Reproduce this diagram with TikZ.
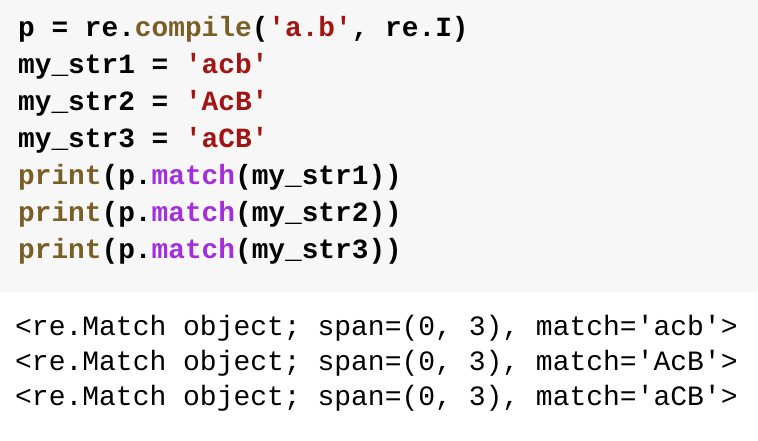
\documentclass[tikz,border=0pt]{standalone}
\usepackage{fontspec}
\setmonofont{Liberation Mono}
\definecolor{cellbg}{HTML}{F7F7F7}
\definecolor{fncol}{HTML}{795E26}
\definecolor{strcol}{HTML}{A31515}
\definecolor{attrcol}{HTML}{A42EDC}
\newcommand{\pyfn}[1]{\textcolor{fncol}{#1}}
\newcommand{\pystr}[1]{\textcolor{strcol}{#1}}
\newcommand{\pyattr}[1]{\textcolor{attrcol}{#1}}

\begin{document}
\begin{tikzpicture}[x=1pt, y=1pt,
    code/.style={anchor=base west, inner sep=0pt, font=\ttfamily\bfseries\fontsize{27.8}{33}\selectfont},
    result/.style={anchor=base west, inner sep=0pt, font=\ttfamily\fontsize{28}{33}\selectfont}]
    \useasboundingbox (0,0) rectangle (758,-440);

    % Celda de codigo
    \fill[cellbg] (0,0) rectangle (758,-292);

    % Lineas de codigo
    \node[code] (c1) at (18,-36) {p = re.\pyfn{compile}(\pystr{'a.b'}, re.I)};
    \node[code] (c2) at (18,-73) {my\_str1 = \pystr{'acb'}};
    \node[code] (c3) at (18,-110) {my\_str2 = \pystr{'AcB'}};
    \node[code] (c4) at (18,-147) {my\_str3 = \pystr{'aCB'}};
    \node[code] (c5) at (18,-184) {\pyfn{print}(p.\pyattr{match}(my\_str1))};
    \node[code] (c6) at (18,-221) {\pyfn{print}(p.\pyattr{match}(my\_str2))};
    \node[code] (c7) at (18,-258) {\pyfn{print}(p.\pyattr{match}(my\_str3))};

    % Salida
    \node[result] (r1) at (15,-335) {<re.Match object; span=(0, 3), match='acb'>};
    \node[result] (r2) at (15,-370) {<re.Match object; span=(0, 3), match='AcB'>};
    \node[result] (r3) at (15,-405) {<re.Match object; span=(0, 3), match='aCB'>};
\end{tikzpicture}
\end{document}
